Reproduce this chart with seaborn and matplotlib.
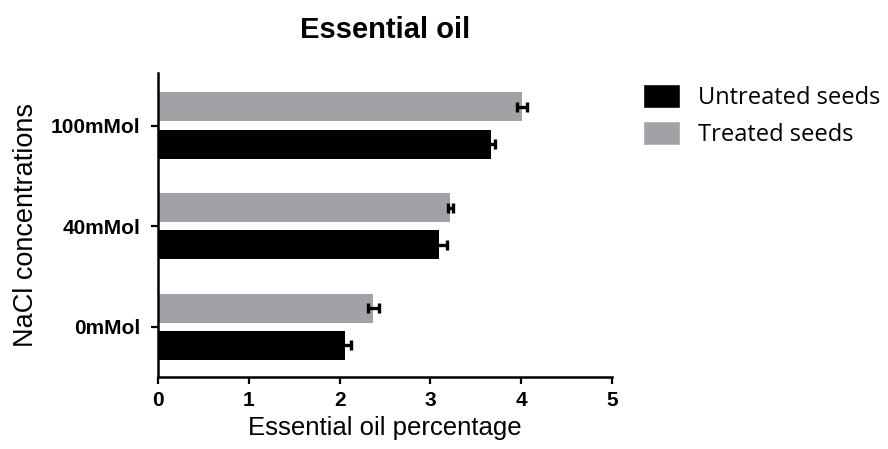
import matplotlib
matplotlib.use("Agg")
import matplotlib.pyplot as plt
from matplotlib.patches import Patch
import seaborn as sns
import pandas as pd

# Essential oil percentage by NaCl concentration and seed treatment
concentrations = ["100mMol", "40mMol", "0mMol"]
groups = ["Treated seeds", "Untreated seeds"]
treated_means = [4.01, 3.22, 2.37]
treated_errs = [0.06, 0.03, 0.06]
untreated_means = [3.67, 3.10, 2.06]
untreated_errs = [0.04, 0.08, 0.07]
x_ticks = [0, 1, 2, 3, 4, 5]

colors = {"Treated seeds": "#a2a2a6", "Untreated seeds": "#000000"}

df = pd.DataFrame({
    "conc": concentrations * 2,
    "group": ["Treated seeds"] * 3 + ["Untreated seeds"] * 3,
    "value": treated_means + untreated_means,
    "err": treated_errs + untreated_errs,
})

sns.set_theme(style="ticks")
plt.rcParams["font.family"] = ["Liberation Sans", "DejaVu Sans"]
plt.rcParams["text.color"] = "black"
plt.rcParams["axes.labelcolor"] = "black"
plt.rcParams["xtick.color"] = "black"
plt.rcParams["ytick.color"] = "black"

fig = plt.figure(figsize=(8.88, 4.49), dpi=100)
ax = fig.add_axes([0.178, 0.160, 0.511, 0.677])

sns.barplot(data=df, y="conc", x="value", hue="group", order=concentrations,
            hue_order=groups, palette=colors, orient="h", width=0.74, gap=0.22,
            errorbar=None, legend=False, ax=ax, saturation=1, linewidth=0)

# error bars centred on each drawn bar
for container, g in zip(ax.containers, groups):
    sub = df[df["group"] == g].set_index("conc").loc[concentrations]
    ys = [p.get_y() + p.get_height() / 2 for p in container.patches]
    ax.errorbar(sub["value"].values, ys, xerr=sub["err"].values, fmt="none",
                ecolor="black", elinewidth=2.4, capsize=3.5, capthick=2.4)

ax.set_xlim(0, 5)
ax.set_ylim(2.5, -0.52)
ax.set_xticks(x_ticks)
ax.set_xticklabels([str(t) for t in x_ticks], fontweight="bold", fontsize=15)
ax.set_yticks(range(len(concentrations)))
ax.set_yticklabels(concentrations, fontweight="bold", fontsize=15)
ax.tick_params(axis="both", width=1.6, length=5, color="black")
ax.tick_params(axis="y", pad=8)
ax.tick_params(axis="x", pad=5)

for s in ["top", "right"]:
    ax.spines[s].set_visible(False)
for s in ["left", "bottom"]:
    ax.spines[s].set_linewidth(1.8)
    ax.spines[s].set_color("black")

ax.set_xlabel("Essential oil percentage", fontsize=18.5, labelpad=4)
ax.set_ylabel("NaCl concentrations", fontsize=19.5, labelpad=8)
ax.set_title("Essential oil", fontsize=21, fontweight="bold", pad=25)

handles = [Patch(facecolor=colors["Untreated seeds"]), Patch(facecolor=colors["Treated seeds"])]
leg = fig.legend(handles, ["Untreated seeds", "Treated seeds"], loc="upper left",
                 bbox_to_anchor=(0.7238, 0.812), frameon=False,
                 prop={"family": "Open Sans", "size": 17},
                 handlelength=1.57, handleheight=1.19, handletextpad=0.76,
                 labelspacing=0.45, borderaxespad=0, borderpad=0)

fig.savefig("out.png", dpi=100)
